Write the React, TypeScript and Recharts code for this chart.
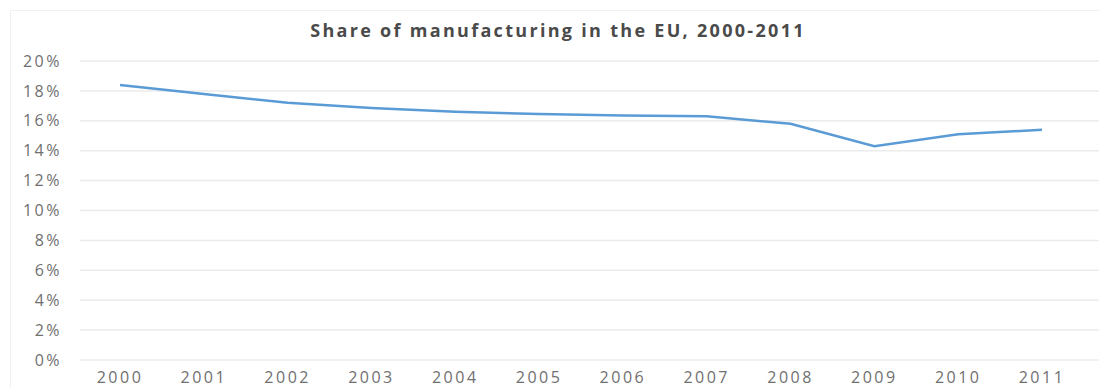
import { CartesianGrid, Line, LineChart, XAxis, YAxis } from "recharts"

const years = ["2000", "2001", "2002", "2003", "2004", "2005", "2006", "2007", "2008", "2009", "2010", "2011"]
const manufacturingShare = [18.4, 17.8, 17.2, 16.85, 16.6, 16.45, 16.35, 16.3, 15.8, 14.3, 15.1, 15.4]
const yTicks = [0, 2, 4, 6, 8, 10, 12, 14, 16, 18, 20]

const data = years.map((year, i) => ({ year, share: manufacturingShare[i] }))

const tickStyle = { fontFamily: "Open Sans", fontSize: 16, fill: "#707070", letterSpacing: 2.5 }

export default function App() {
  return (
    <div style={{ position: "absolute", left: 0, top: 0, width: 1099, height: 387, background: "#fff" }}>
      <div
        style={{
          position: "absolute",
          left: 10,
          top: 10,
          width: 1089,
          height: 377,
          borderTop: "1px solid #f0f0f0",
          borderLeft: "1px solid #f0f0f0",
        }}
      />
      <div
        style={{
          position: "absolute",
          left: 0,
          width: 1116,
          top: 18,
          textAlign: "center",
          fontFamily: "Open Sans",
          fontWeight: 700,
          fontSize: 18,
          letterSpacing: 2.3,
          color: "#4a4a4a",
        }}
      >
        Share of manufacturing in the EU, 2000-2011
      </div>
      <LineChart width={1099} height={387} data={data} margin={{ top: 61, right: 0, left: 0, bottom: 0 }}>
        <CartesianGrid vertical={false} stroke="#ebebeb" strokeWidth={1.5} />
        <XAxis
          dataKey="year"
          axisLine={false}
          tickLine={false}
          tickSize={0}
          tickMargin={12}
          height={27}
          padding={{ left: 40, right: 57 }}
          tick={tickStyle}
          interval={0}
        />
        <YAxis
          width={80}
          domain={[0, 20]}
          ticks={yTicks}
          axisLine={false}
          tickLine={false}
          tickSize={0}
          tickMargin={18}
          tick={tickStyle}
          tickFormatter={(v) => `${v}%`}
        />
        <Line
          type="linear"
          dataKey="share"
          stroke="#5b9bd5"
          strokeWidth={2.5}
          dot={false}
          isAnimationActive={false}
        />
      </LineChart>
    </div>
  )
}
